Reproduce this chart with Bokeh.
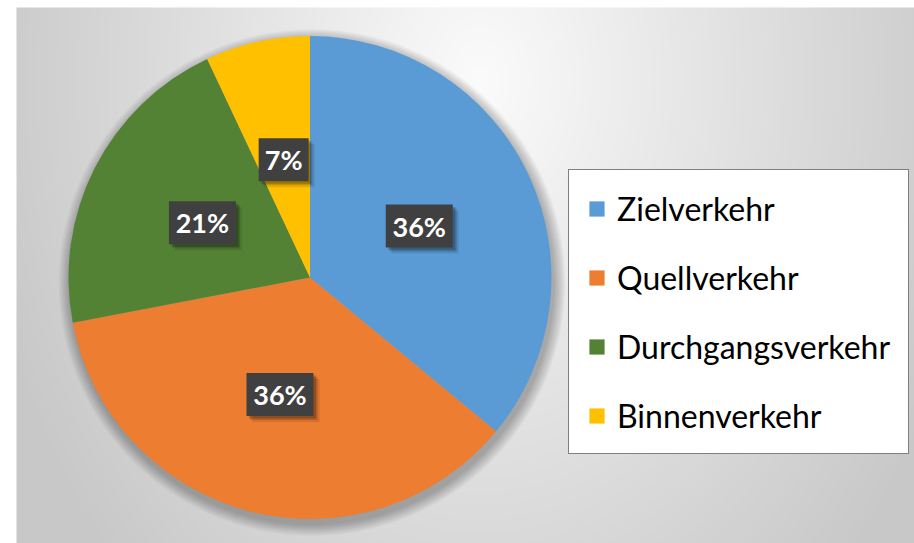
import numpy as np
from bokeh.plotting import figure
from bokeh.models import Range1d, Legend, LegendItem, ColumnDataSource
from bokeh.embed import file_html
from bokeh.resources import INLINE
from bokeh.core.properties import value

# ---- data ----
categories = ["Zielverkehr", "Quellverkehr", "Durchgangsverkehr", "Binnenverkehr"]
shares = [36, 36, 21, 7]
labels = ["36%", "36%", "21%", "7%"]
colors = ["#5B9BD5", "#ED7D31", "#548235", "#FFC000"]

# ---- figure: data units == picture pixels (y measured upward from bottom) ----
W, H = 914, 543
p = figure(width=W, height=H, output_backend="svg", toolbar_location=None,
           x_range=Range1d(0, W), y_range=Range1d(0, H),
           min_border=0, outline_line_color=None,
           background_fill_color="white", border_fill_color="white",
           x_axis_location=None, y_axis_location=None)
p.xgrid.visible = False
p.ygrid.visible = False

# ---- radial gradient background ----
gx0, gw, gh = 16, 898, 536
px = gx0 + np.arange(gw) + 0.5
py = H - (np.arange(gh) + 0.5)
X, Y = np.meshgrid(px, py)
d = np.sqrt(((X - 480) / 515.0) ** 2 + ((Y - 80) / 700.0) ** 2)
t = np.clip(d, 0, 1)
g = (251 - (251 - 200) * t).astype(np.uint8)
img = np.empty((gh, gw), dtype=np.uint32)
view = img.view(dtype=np.uint8).reshape((gh, gw, 4))
view[..., 0] = g
view[..., 1] = g
view[..., 2] = g
view[..., 3] = 255
p.image_rgba(image=[img], x=gx0, y=0, dw=gw, dh=gh)

# ---- pie geometry ----
cx, cy, r = 309.5, H - 277.0, 241.5
fr = np.array(shares, dtype=float) / sum(shares)
cum = np.concatenate([[0.0], np.cumsum(fr)])
start = np.pi / 2 - 2 * np.pi * cum[:-1]
end = np.pi / 2 - 2 * np.pi * cum[1:]
mid = (start + end) / 2

# soft shadow under the pie
for k in range(12):
    p.circle(x=cx + 2, y=cy - 5, radius=r + 12 - k, fill_color="black",
             fill_alpha=0.022, line_color=None)

src = ColumnDataSource(dict(category=categories, start=start, end=end, color=colors))
wedges = p.wedge(x=cx, y=cy, radius=r, start_angle="start", end_angle="end",
                 direction="clock", fill_color="color", line_color=None, source=src)

# ---- data labels ----
lx = cx + 0.5 * r * np.cos(mid)
ly = cy + 0.5 * r * np.sin(mid)
bw = [16 + 17 * len(s) for s in labels]
for off, a in [(6, 0.10), (4, 0.15), (2.5, 0.2)]:
    p.rect(x=lx + off, y=ly - off, width=bw, height=43, width_units="screen",
           height_units="screen", fill_color="black", fill_alpha=a, line_color=None)
p.rect(x=lx, y=ly, width=bw, height=43, width_units="screen", height_units="screen",
       fill_color="#404040", line_color=None)
p.text(x=lx, y=ly, text=labels, text_font=value("Lato"), text_font_style="bold",
       text_font_size="27px", text_color="white", text_align="center",
       text_baseline="middle")

# ---- legend ----
items = [LegendItem(label=c, renderers=[wedges], index=i) for i, c in enumerate(categories)]
legend = Legend(items=items, location=(568, H - 454), orientation="vertical",
                label_text_font="Lato", label_text_font_size="32px",
                label_text_color="black", glyph_width=19, glyph_height=19,
                label_standoff=11, padding=18, spacing=29, label_height=40,
                border_line_color="black", border_line_width=1.5,
                background_fill_color="white", background_fill_alpha=1.0, margin=0)
p.add_layout(legend)

open("out.html", "w").write(file_html(p, INLINE))
